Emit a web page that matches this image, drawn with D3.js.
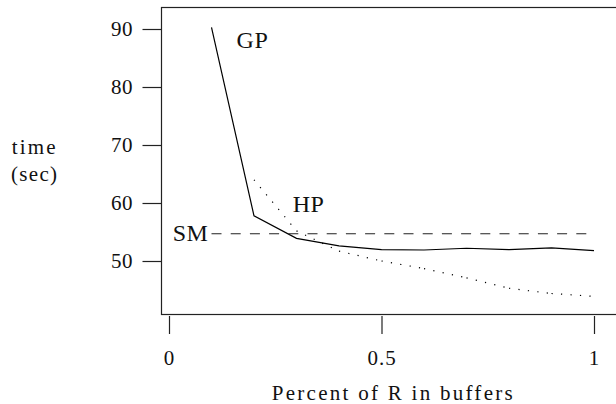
<!DOCTYPE html>
<html>
<head>
<meta charset="utf-8">
<script src="https://cdn.jsdelivr.net/npm/d3@7"></script>
<style>
  body { margin: 0; background: #fff; }
</style>
</head>
<body>
<svg id="chart" width="616" height="404" font-family="Liberation Serif"></svg>
<script>
// data
const xValues = [0.1, 0.2, 0.3, 0.4, 0.5, 0.6, 0.7, 0.8, 0.9, 1.0];
const gpTimes = [90.3, 57.8, 53.9, 52.6, 51.95, 51.9, 52.2, 51.95, 52.25, 51.8];
const hpX = [0.2, 0.3, 0.4, 0.5, 0.6, 0.7, 0.8, 0.9, 1.0];
const hpTimes = [64.0, 55.2, 51.7, 50.0, 48.7, 47.1, 45.3, 44.4, 43.9];
const smX = [0.1, 1.0];
const smTimes = [54.7, 54.7];
const xTicks = [0, 0.5, 1];
const xTickLabels = ['0', '0.5', '1'];
const yTicks = [50, 60, 70, 80, 90];
const seriesLabels = [
  {text: 'GP', x: 0.159, y: 86.7},
  {text: 'HP', x: 0.291, y: 58.5},
  {text: 'SM', x: 0.0087, y: 53.5}
];

const FONT = 'Liberation Serif';
const fontSize = 21;
const box = {left: 161.5, top: 7.5, right: 620, bottom: 314.5};

const svg = d3.select('svg#chart');

const x = d3.scaleLinear().domain([0, 1]).range([169, 594]);
const y = d3.scaleLinear().domain([50, 90]).range([261, 29]);

function serif(sel, size) {
  return sel
    .attr('font-family', FONT)
    .style('font-family', FONT)
    .attr('font-size', size)
    .attr('fill', '#111');
}

// frame
svg.append('rect')
  .attr('x', box.left)
  .attr('y', box.top)
  .attr('width', box.right - box.left)
  .attr('height', box.bottom - box.top)
  .attr('fill', 'none')
  .attr('stroke', '#222')
  .attr('stroke-width', 1.2);

// y axis, ticks sticking out of the frame
const yAxis = svg.append('g')
  .attr('transform', `translate(${box.left},0)`)
  .call(d3.axisLeft(y).tickValues(yTicks).tickSize(19).tickPadding(10));
yAxis.attr('font-family', FONT);
yAxis.select('.domain').remove();
yAxis.selectAll('line').attr('stroke', '#222').attr('stroke-width', 1.2);
serif(yAxis.selectAll('text'), fontSize)
  .attr('textLength', 21.5)
  .attr('lengthAdjust', 'spacing')
  .attr('dy', '0.33em');

// x axis, detached below the frame
const xAxis = svg.append('g')
  .attr('transform', 'translate(0,316)')
  .call(d3.axisBottom(x).tickValues(xTicks)
    .tickFormat((d, i) => xTickLabels[i]).tickSize(18));
xAxis.attr('font-family', FONT);
xAxis.select('.domain').remove();
xAxis.selectAll('line').attr('stroke', '#222').attr('stroke-width', 1.2);
serif(xAxis.selectAll('text'), fontSize)
  .attr('letter-spacing', 1)
  .attr('y', 49)
  .attr('dy', 0);

// axis titles
serif(svg.append('text'), fontSize)
  .attr('x', 271.7).attr('y', 400)
  .attr('textLength', 241).attr('lengthAdjust', 'spacing')
  .text('Percent of R in buffers');

serif(svg.append('text'), fontSize)
  .attr('x', 11.7).attr('y', 154)
  .attr('textLength', 44).attr('lengthAdjust', 'spacing')
  .text('time');
serif(svg.append('text'), fontSize)
  .attr('x', 11).attr('y', 181)
  .attr('textLength', 46).attr('lengthAdjust', 'spacing')
  .text('(sec)');

const line = d3.line().x(d => x(d[0])).y(d => y(d[1]));

// GP, solid
svg.append('path')
  .datum(d3.zip(xValues, gpTimes))
  .attr('d', line)
  .attr('fill', 'none')
  .attr('stroke', '#000')
  .attr('stroke-width', 1.2);

// HP, dotted; the dot pattern restarts on each segment
const hpPts = d3.zip(hpX, hpTimes);
svg.append('g').selectAll('path')
  .data(d3.pairs(hpPts))
  .join('path')
  .attr('d', line)
  .attr('fill', 'none')
  .attr('stroke', '#000')
  .attr('stroke-width', 1.2)
  .attr('stroke-dasharray', '1.2 8.3');

// SM, dashed
svg.append('path')
  .datum(d3.zip(smX, smTimes))
  .attr('d', line)
  .attr('fill', 'none')
  .attr('stroke', '#222')
  .attr('stroke-width', 1.2)
  .attr('stroke-dasharray', '10 9.2');

// series labels
serif(svg.append('g').selectAll('text').data(seriesLabels).join('text'), 24)
  .attr('x', d => x(d.x))
  .attr('y', d => y(d.y))
  .attr('letter-spacing', 0.5)
  .text(d => d.text);
</script>
</body>
</html>
